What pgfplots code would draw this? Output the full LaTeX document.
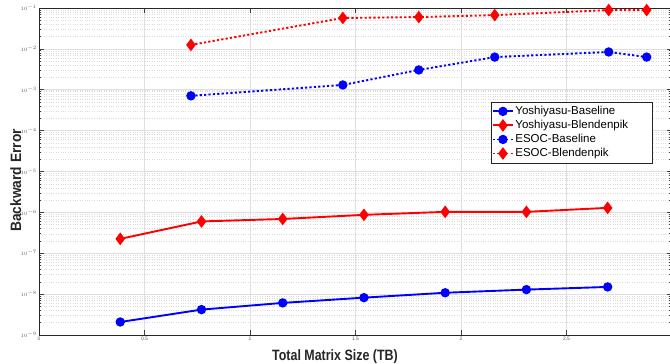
\documentclass[border=0pt]{standalone}
\usepackage{fontspec}
\setmainfont{Liberation Sans}
\newfontfamily\labx[FakeStretch=0.83]{Liberation Sans}
\newfontfamily\laby[FakeStretch=0.92]{Liberation Sans}
\usepackage{pgfplots}
\pgfplotsset{compat=1.18}
\definecolor{pblue}{RGB}{0,0,255}
\definecolor{pred}{RGB}{255,0,0}
\begin{document}
\begin{tikzpicture}
\begin{axis}[
  name=ax,
  scale only axis,
  width=633pt, height=327pt,
  xmin=0, xmax=3,
  ymode=log, ymin=1e-9, ymax=1e-1,
  xtick={0,0.5,1,1.5,2,2.5},
  xticklabels={0,0.5,1,1.5,2,2.5},
  ytick={1e-9,1e-8,1e-7,1e-6,1e-5,1e-4,1e-3,1e-2,1e-1},
  tick align=inside,
  major tick length=5pt, minor tick length=2.5pt,
  tick style={black!75, line width=0.6pt},
  axis line style={black!85, line width=0.8pt},
  grid=both,
  major grid style={gray!25, line width=0.6pt},
  minor grid style={gray!28, dotted, line width=0.4pt},
  xticklabel style={font=\fontsize{5}{6}\selectfont, text=black!65, inner sep=1pt, yshift=-1pt},
  yticklabel style={font=\fontsize{5}{6}\selectfont, text=black!65, inner sep=1pt, xshift=-1pt},
  xlabel={\labx\bfseries Total Matrix Size (TB)},
  ylabel={\laby\bfseries Backward Error},
  xlabel style={at={(axis description cs:0.4676,-0.0765)}, anchor=base, font=\fontsize{15}{17}\selectfont, text=black!85},
  ylabel style={at={(axis description cs:-0.0284,0.4725)}, anchor=base, font=\fontsize{15}{17}\selectfont, text=black!85},
  legend style={at={(0.7136,0.7135)}, anchor=north west, font=\fontsize{11.5}{12}\selectfont,
     draw=black!85, line width=0.6pt, inner xsep=1pt, inner ysep=3pt, row sep=1.2pt,
     nodes={inner sep=1.5pt},
     /tikz/every even column/.append style={text width=134pt}},
  legend cell align=left,
  legend image code/.code={\draw[mark repeat=2,mark phase=2,#1] plot coordinates {(0pt,0pt) (10pt,0pt) (20pt,0pt)};},
  every axis plot/.append style={line width=1.9pt},
]
\addplot[pblue, mark=*, mark size=3.7pt, mark options={solid}] coordinates {
 (0.385,2.08e-9) (0.77,4.18e-9) (1.155,6.1e-9) (1.54,8.2e-9) (1.925,1.08e-8) (2.31,1.29e-8) (2.695,1.5e-8)};
\addlegendentry{Yoshiyasu-Baseline}
\addplot[pred, mark=diamond*, mark size=4.8pt, mark options={solid}] coordinates {
 (0.385,2.25e-7) (0.77,6.0e-7) (1.155,6.9e-7) (1.54,8.7e-7) (1.925,1.03e-6) (2.31,1.03e-6) (2.695,1.29e-6)};
\addlegendentry{Yoshiyasu-Blendenpik}
\addplot[pblue, dash pattern=on 2.2pt off 2.2pt, mark=*, mark size=3.7pt, mark options={solid}] coordinates {
 (0.72,7.1e-4) (1.44,1.31e-3) (1.8,3.05e-3) (2.16,6.3e-3) (2.7,8.4e-3) (2.88,6.3e-3)};
\addlegendentry{ESOC-Baseline}
\addplot[pred, dash pattern=on 2.2pt off 2.2pt, mark=diamond*, mark size=4.8pt, mark options={solid}] coordinates {
 (0.72,1.25e-2) (1.44,5.7e-2) (1.8,6.0e-2) (2.16,6.7e-2) (2.7,8.9e-2) (2.88,8.9e-2)};
\addlegendentry{ESOC-Blendenpik}
\end{axis}
\pgfresetboundingbox
\path[use as bounding box] ([xshift=-39pt,yshift=-29pt]ax.south west) rectangle ([xshift=631pt,yshift=335pt]ax.south west);
\end{tikzpicture}
\end{document}
